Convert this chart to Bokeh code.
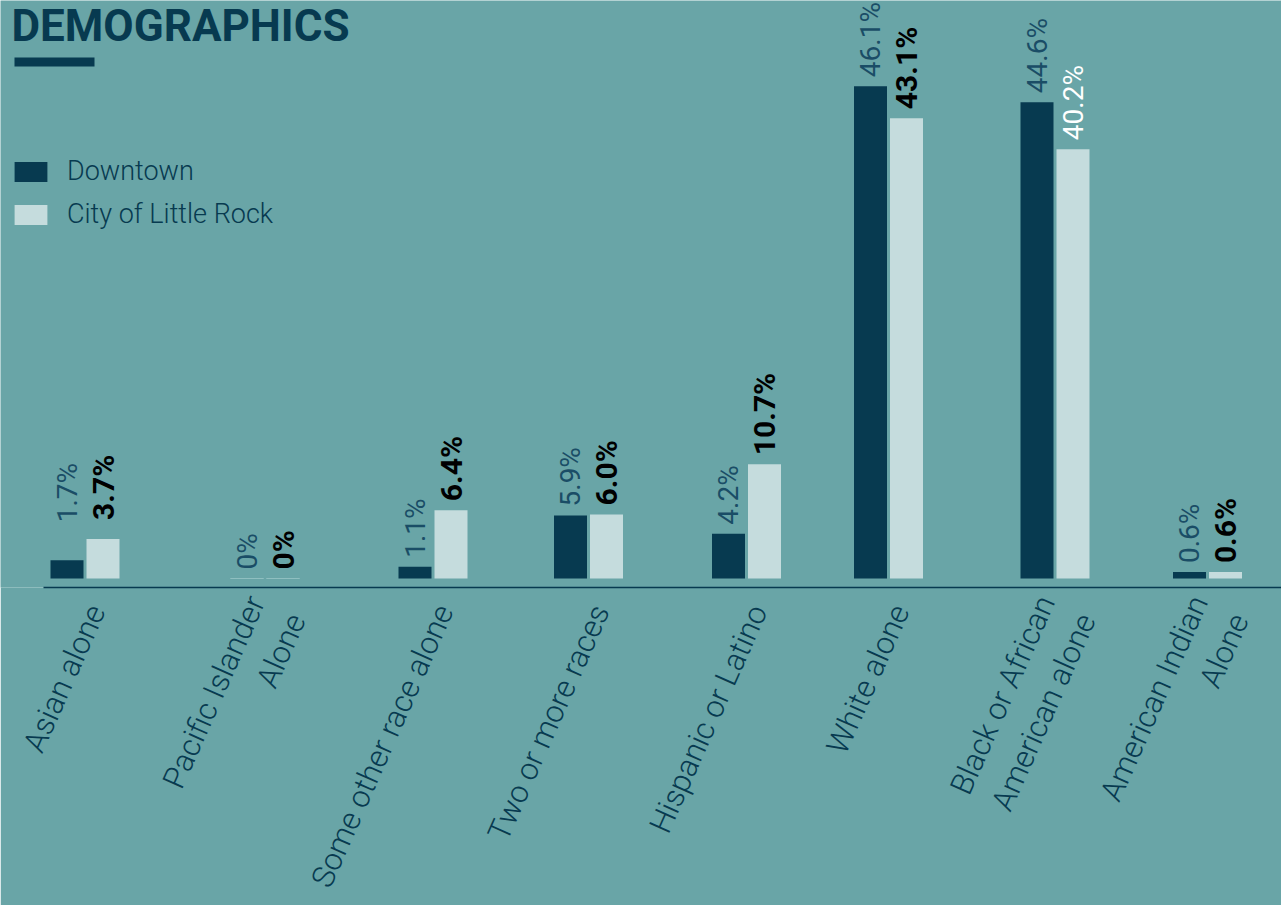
import math
from bokeh.plotting import figure
from bokeh.models import (Range1d, FixedTicker, Legend, LegendItem, Label,
                          BoxAnnotation, ColumnDataSource)
from bokeh.core.properties import value
from bokeh.embed import file_html
from bokeh.resources import INLINE

# ---------------- data ----------------
categories = ["Asian alone", "Pacific Islander\nAlone", "Some other race alone",
              "Two or more races", "Hispanic or Latino", "White alone",
              "Black or African\nAmerican alone", "American Indian\nAlone"]
downtown = [1.7, 0.0, 1.1, 5.9, 4.2, 46.1, 44.6, 0.6]
city = [3.7, 0.0, 6.4, 6.0, 10.7, 43.1, 40.2, 0.6]
downtown_labels = ["1.7%", "0%", "1.1%", "5.9%", "4.2%", "46.1%", "44.6%", "0.6%"]
city_labels = ["3.7%", "0%", "6.4%", "6.0%", "10.7%", "43.1%", "40.2%", "0.6%"]

# ---------------- layout / style ----------------
group_x = [84.5, 264.5, 432.5, 588, 746, 888, 1054.5, 1207]   # group centres (px units)
bar_offset = 18
bar_width = 33
label_shift = 12
label_gap = 9
downtown_lift = [29, 0, 0, 0, 0, 0, 0, 0]
city_lift = [10, 0, 0, 0, 0, 0, 0, 0]
city_bold = [True, True, True, True, True, True, False, True]

BG = "#69a5a7"
NAVY = "#073a50"
LIGHT = "#c5dcdd"
DT_LABEL = "#1a4d66"
THIN = "Roboto Light, Roboto"
REG = "Roboto"
BOLD = "Roboto"

W, H = 1281, 905
K = 10.68                      # px per percentage point
Y0 = 578                       # page y of the zero line
FRAME_BOTTOM = 587
y_start = -(FRAME_BOTTOM - Y0) / K
y_end = Y0 / K

p = figure(width=W, height=H, x_range=Range1d(0, W), y_range=Range1d(y_start, y_end),
           output_backend="svg", toolbar_location=None, y_axis_location=None,
           min_border_left=0, min_border_right=0, min_border_top=0,
           min_border_bottom=H - FRAME_BOTTOM,
           background_fill_color=BG, border_fill_color=BG, outline_line_color=None)
p.grid.visible = False

dx = [g - bar_offset for g in group_x]
cx = [g + bar_offset for g in group_x]

src_d = ColumnDataSource(dict(x=dx, top=downtown, lab=downtown_labels,
                              off=[-(label_gap + l) for l in downtown_lift],
                              la=[1 if v == 0 else 0 for v in downtown]))
src_c = ColumnDataSource(dict(x=cx, top=city, lab=city_labels,
                              off=[-(label_gap + l) for l in city_lift],
                              la=[1 if v == 0 else 0 for v in city],
                              style=["bold" if b else "normal" for b in city_bold],
                              size=["30px" if b else "28px" for b in city_bold],
                              color=["#000000" if b else "#ffffff" for b in city_bold]))

r_d = p.vbar(x="x", top="top", bottom=0, width=bar_width, source=src_d,
             fill_color=NAVY, line_color="#8fbfc0", line_alpha="la", line_width=1)
r_c = p.vbar(x="x", top="top", bottom=0, width=bar_width, source=src_c,
             fill_color=LIGHT, line_color="#8fbfc0", line_alpha="la", line_width=1)

p.text(x="x", y="top", text="lab", source=src_d, angle=math.pi / 2,
       text_align="left", text_baseline="middle", y_offset="off",
       text_font=value(REG), text_font_size="28px", text_color=DT_LABEL)
p.text(x="x", y="top", text="lab", source=src_c, angle=math.pi / 2,
       text_align="left", text_baseline="middle", y_offset="off",
       text_font=value(BOLD), text_font_style="style", text_font_size="size",
       text_color="color")

# x axis
ticks = [int(round(g + label_shift)) for g in group_x]
ax = p.xaxis[0]
ax.ticker = FixedTicker(ticks=ticks)
ax.major_label_overrides = {t: c for t, c in zip(ticks, categories)}
ax.major_label_orientation = math.radians(66)
ax.major_label_text_font = THIN
ax.major_label_text_font_size = "31px"
ax.major_label_text_color = NAVY
ax.major_label_standoff = 19
ax.axis_line_color = NAVY
ax.axis_line_width = 1.5
ax.bounds = (43, W)
ax.major_tick_line_color = None
ax.minor_tick_line_color = None
ax.major_tick_in = 0
ax.major_tick_out = 0

def px_y(page_y):
    return (Y0 - page_y) / K

# title + underline
p.add_layout(Label(x=11, y=px_y(25), text="DEMOGRAPHICS", text_font=BOLD,
                   text_font_style="bold", text_font_size="44px", text_color=NAVY,
                   text_baseline="alphabetic"))
p.add_layout(BoxAnnotation(left=14, right=94, top=px_y(57), bottom=px_y(66),
                           fill_color=NAVY, fill_alpha=1, line_color=None))

# legend
legend = Legend(items=[LegendItem(label="Downtown", renderers=[r_d]),
                       LegendItem(label="City of Little Rock", renderers=[r_c])],
                location=(10, 357), orientation="vertical",
                glyph_width=41, glyph_height=25, label_height=25, label_standoff=16,
                spacing=11, padding=0, margin=0, border_line_color=None,
                background_fill_alpha=0, label_text_font=THIN,
                label_text_font_size="27px", label_text_color=NAVY)
p.add_layout(legend)

open("out.html", "w").write(file_html(p, INLINE))
